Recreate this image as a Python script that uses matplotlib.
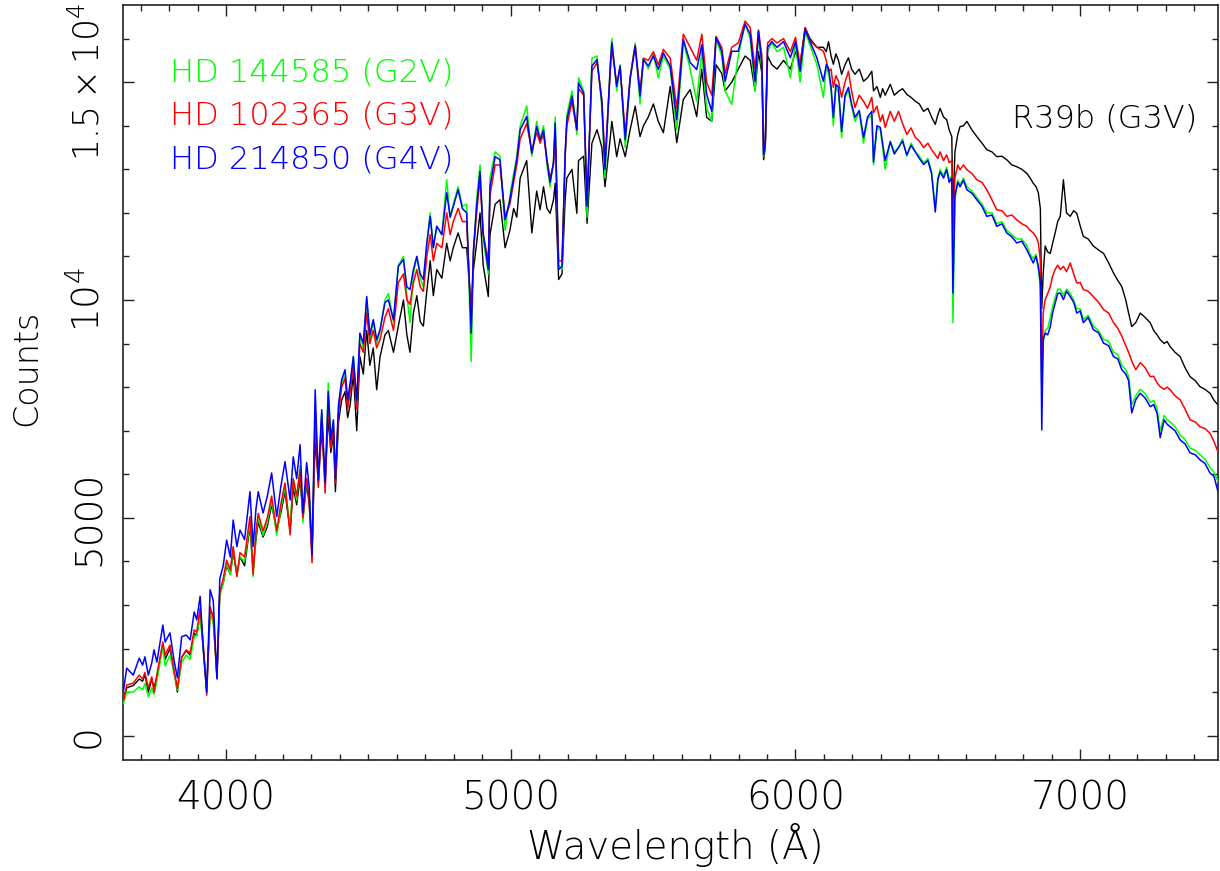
import matplotlib
matplotlib.use("Agg")
import matplotlib.pyplot as plt
from matplotlib.ticker import MultipleLocator, FixedLocator

plt.rcParams["mathtext.fontset"] = "custom"
plt.rcParams["mathtext.rm"] = "DejaVu Sans:extralight"
plt.rcParams["mathtext.it"] = "DejaVu Sans:extralight"
plt.rcParams["mathtext.bf"] = "DejaVu Sans:extralight"

# ---------------- data ----------------
wavelength = [
    3640, 3651, 3674, 3695, 3707, 3715, 3727, 3739, 3747, 3757, 3778, 3786, 3803, 3817, 3829, 3844,
    3860, 3874, 3888, 3897, 3909, 3920, 3932, 3944, 3955, 3968, 3978,
    3990, 4002, 4015, 4025, 4038, 4049, 4065, 4084, 4095, 4105, 4113, 4130, 4145, 4160, 4178, 4192,
    4207, 4225, 4236, 4248, 4260, 4270, 4283, 4292, 4302, 4313, 4324, 4336, 4348, 4359, 4368, 4377,
    4384, 4395, 4406, 4418, 4427, 4436, 4447, 4459, 4470, 4482, 4494, 4505, 4517, 4529, 4541, 4558,
    4570, 4588, 4605, 4623, 4635, 4646, 4658, 4670, 4682, 4693, 4705, 4717, 4728, 4740, 4758, 4775,
    4787, 4798, 4815, 4830,
    4845, 4861, 4869, 4880, 4892, 4903, 4921, 4927, 4945, 4962, 4980, 4997, 5010, 5021, 5033, 5056,
    5074, 5091, 5103, 5115, 5127, 5138, 5150, 5156, 5168, 5180, 5191, 5197, 5215, 5232, 5238, 5256,
    5268, 5285, 5303, 5320, 5331, 5349, 5355, 5372, 5384, 5402, 5419, 5437, 5454, 5466, 5483, 5501,
    5518, 5536, 5560, 5583, 5606, 5630, 5653,
    5671, 5688, 5706, 5721, 5741, 5753, 5776, 5799, 5823, 5841, 5858, 5870, 5882, 5888, 5894, 5902,
    5917, 5935, 5958, 5982, 6000, 6016, 6034, 6051, 6075,
    6098, 6108, 6116, 6125, 6133, 6142, 6151, 6162, 6174, 6186,
    6197, 6209, 6224, 6239, 6253, 6268, 6274, 6286, 6298, 6306,
    6315, 6333, 6347, 6362, 6376, 6391, 6406, 6421, 6435, 6450,
    6465, 6478, 6491, 6500, 6508, 6520, 6531, 6540, 6549, 6553,
    6560, 6570, 6578, 6590, 6602, 6620, 6637, 6655, 6672, 6690,
    6707, 6725, 6742, 6760, 6777, 6795, 6812, 6824, 6835, 6845,
    6853, 6860, 6865, 6870, 6877, 6886, 6895, 6903, 6912, 6921,
    6930, 6941, 6952, 6965, 6977, 6988, 7000, 7011, 7028, 7046,
    7064, 7082, 7100, 7117, 7132, 7146, 7160, 7170, 7181, 7195,
    7211, 7228, 7246, 7258, 7270, 7281, 7295, 7305, 7316, 7333,
    7351, 7368, 7386, 7404, 7421, 7438, 7456, 7470, 7484,
]

counts_hd144585 = [  # green, G2V
    750, 1000, 1000, 1120, 1050, 1200, 890, 1100, 950, 1250, 2040, 1600, 1850, 1450, 1050, 1670,
    1850, 1750, 2270, 2300, 2730, 2000, 1000, 2800, 2600, 1400, 3200,
    3500, 3950, 3700, 4300, 3700, 4100, 4000, 4900, 3650, 4600, 5000, 4600, 4900, 5400, 4600, 5200,
    5700, 4800, 5900, 5400, 6200, 4900, 5900, 5500, 4100, 7500, 5800, 7400, 5700, 8100, 6700, 7200,
    5900, 7500, 8100, 8300, 7600, 8000, 8700, 7500, 9200, 8900, 10000, 9100, 9500, 9000, 9300, 10000,
    10150, 9500, 10800, 11000, 10100, 9480, 10600, 11000, 10500, 10300, 11300, 12000, 11200, 11700, 11500, 12760,
    11900, 12200, 12600, 12150,
    12200, 8590, 11000, 12300, 13100, 11400, 10600, 12800, 13400, 13300, 11600, 12400, 12900, 13300, 14000, 14450,
    13300, 14100, 13700, 14000, 13100, 12600, 13200, 14200, 10800, 10700, 13300, 14250, 14800, 13800, 15100, 14800,
    11900, 15550, 15600, 14400, 12800, 15400, 16000, 14800, 15400, 13500, 15100, 15900, 14500, 15550, 15300, 15650,
    15100, 15600, 15300, 13900, 15950, 15300, 14560,
    15700, 14400, 14100, 16000, 15600, 14800, 14490, 15600, 16350, 16000, 14800, 16100, 15300, 13300, 13600, 15700,
    15900, 15700, 15800, 15100, 15900, 15000, 16150, 15850, 15400,
    14650, 15350, 15200, 14800, 14000, 14900, 14750, 13730, 14650, 14800,
    14450, 14100, 14300, 13600, 14150, 14250, 13100, 13950, 13900, 13500,
    13000, 13650, 13400, 13500, 13700, 13300, 13600, 13400, 13300, 13150,
    13250, 12950, 12100, 12800, 13000, 12850, 13050, 12750, 12850, 9480,
    12300, 12750, 12650, 12800, 12600, 12500, 12350, 12200, 12000, 12000,
    11750, 11800, 11600, 11500, 11400, 11400, 11250, 11050, 10950, 11050,
    10700, 10300, 8000, 9000, 9300, 9350, 9600, 9850, 10050, 10250,
    10250, 10100, 10250, 10150, 10000, 9800, 9800, 9550, 9650, 9400,
    9300, 9100, 9050, 8800, 8750, 8500, 8400, 8250, 7600, 7800,
    7950, 7850, 7650, 7700, 7500, 7000, 7350, 7250, 7200, 7100,
    6900, 6800, 6600, 6550, 6450, 6350, 6150, 6050, 5830,
]

counts_hd102365 = [  # red, G3V
    820, 1160, 1210, 1390, 1300, 1450, 1090, 1350, 1000, 1400, 2150, 1850, 2080, 1500, 1090, 1800,
    1970, 1900, 2430, 2380, 2930, 2100, 930, 2960, 2700, 1330, 3300,
    3600, 4030, 3800, 4340, 3650, 4200, 4100, 5030, 3700, 4700, 5100, 4700, 5000, 5500, 4700, 5300,
    5800, 4610, 5900, 5500, 6100, 5000, 5900, 5400, 3970, 7400, 5700, 7300, 5570, 7700, 6600, 7100,
    5800, 7400, 8000, 8200, 7500, 7900, 8500, 7500, 9000, 8800, 9700, 9000, 9300, 8900, 9100, 9600,
    9800, 9300, 10400, 10600, 10000, 9900, 10400, 10700, 10300, 10200, 11000, 11500, 10900, 11300, 11200, 12000,
    11500, 11800, 12100, 11800,
    11800, 9500, 11100, 12000, 12800, 11500, 10900, 12400, 13100, 13100, 11900, 12200, 12700, 13100, 13700, 14050,
    13400, 13850, 13600, 13800, 13200, 12800, 13100, 13900, 10900, 10900, 13300, 14000, 14550, 13900, 14850, 14700,
    12300, 15250, 15450, 14600, 13200, 15200, 15800, 14950, 15350, 13800, 15100, 15850, 14800, 15550, 15500, 15700,
    15400, 15750, 15550, 14400, 16100, 15800, 15500,
    16100, 15000, 14700, 16050, 15800, 15200, 15800, 15900, 16400, 16250, 15300, 16200, 15600, 13400, 13700, 15900,
    16000, 15900, 16000, 15700, 16030, 15400, 16250, 15950, 15800,
    15710, 15500, 15250, 15300, 14880, 15150, 15020, 14650, 15000, 15250,
    14800, 14420, 14700, 14560, 14400, 14650, 14300, 14450, 14100, 14250,
    13960, 14330, 14100, 14330, 14050, 13800, 13950, 13730, 13650, 13500,
    13600, 13450, 13330, 13250, 13400, 13200, 13330, 13150, 13200, 11610,
    12800, 13100, 12990, 13100, 12990, 12900, 12760, 12700, 12530, 12300,
    12070, 12050, 11920, 11950, 11840, 11750, 11690, 11600, 11540, 11450,
    11310, 10900, 8100, 9700, 10010, 10150, 10310, 10550, 10700, 10800,
    10700, 10770, 10650, 10850, 10600, 10390, 10400, 10240, 10200, 10080,
    9950, 9780, 9700, 9480, 9350, 9170, 8950, 8800, 8600, 8400,
    8560, 8450, 8240, 8250, 8100, 8010, 7950, 8000, 7940, 7800,
    7710, 7500, 7250, 7200, 7090, 7050, 6940, 6750, 6510,
]

counts_hd214850 = [  # blue, G4V
    1050, 1550, 1390, 1780, 1620, 1810, 1390, 1670, 1970, 1690, 2540, 2150, 2360, 1740, 1330, 2270,
    2310, 2200, 2840, 2660, 3200, 1970, 1000, 3350, 3100, 1300, 3600,
    3900, 4490, 4100, 4950, 4340, 4720, 4500, 5600, 4340, 5200, 5600, 5110, 5500, 6030, 5030, 5700,
    6290, 5410, 6400, 5900, 6680, 5110, 6270, 5700, 4150, 7940, 5870, 7480, 5800, 7900, 6800, 7250,
    5900, 7600, 8170, 8400, 7700, 8100, 8700, 7700, 9240, 9010, 10080, 9200, 9550, 9090, 9320, 9940,
    10000, 9550, 10770, 10930, 10300, 10240, 10700, 11000, 10600, 10470, 11300, 11920, 11200, 11690, 11500, 12460,
    11900, 12150, 12530, 12100,
    12000, 9240, 11160, 12150, 12950, 11540, 10700, 12600, 13290, 13220, 11840, 12300, 12800, 13220, 13910, 14210,
    13370, 13980, 13680, 13900, 13220, 12700, 13150, 14060, 10700, 10770, 13370, 14140, 14680, 13910, 14980, 14750,
    12150, 15370, 15520, 14530, 13000, 15290, 15910, 14900, 15370, 13680, 15060, 15820, 14680, 15520, 15370, 15600,
    15290, 15670, 15370, 14140, 15980, 15450, 15290,
    15860, 14720, 14330, 16030, 15710, 15020, 15710, 15710, 16330, 16100, 15020, 16170, 15410, 13330, 13630, 15800,
    15930, 15800, 15930, 15560, 15930, 15250, 16210, 15930, 15560,
    15020, 15400, 15330, 14900, 14190, 14950, 14880, 13870, 14700, 14880,
    14500, 14190, 14350, 13730, 14200, 14330, 13170, 14000, 13960, 13600,
    13200, 13630, 13350, 13500, 13650, 13330, 13550, 13400, 13250, 13110,
    13200, 12900, 12020, 12750, 12940, 12800, 12990, 12700, 12800, 10160,
    12400, 12700, 12600, 12750, 12530, 12450, 12300, 12150, 11920, 11950,
    11690, 11750, 11540, 11450, 11310, 11350, 11160, 11000, 10850, 11000,
    10770, 10400, 7020, 9100, 9240, 9200, 9390, 9700, 9930, 10150,
    10160, 10010, 10200, 10080, 9950, 9700, 9750, 9480, 9600, 9320,
    9250, 9010, 8950, 8700, 8650, 8400, 8300, 8150, 7410, 7710,
    7860, 7750, 7550, 7600, 7400, 6840, 7250, 7150, 7090, 7000,
    6790, 6700, 6490, 6450, 6330, 6250, 6030, 5950, 5600,
]

counts_r39b = [  # black, G3V
    800, 1100, 1150, 1300, 1250, 1400, 1000, 1300, 1100, 1350, 2100, 1750, 2000, 1500, 1000, 1800,
    1950, 1850, 2350, 2300, 2800, 2000, 1050, 2900, 2750, 1350, 3300,
    3500, 3900, 3700, 4200, 3700, 4100, 3900, 4800, 3800, 4500, 4900, 4560, 4800, 5300, 4700, 5100,
    5600, 4700, 5700, 5300, 5900, 5000, 5800, 5300, 4200, 6800, 5800, 7000, 5900, 7300, 6500, 6900,
    5600, 7200, 7700, 7900, 7300, 7600, 8300, 7000, 8700, 8300, 9300, 8500, 8900, 7940, 8700, 9200,
    9300, 8800, 9400, 10000, 9200, 8800, 9700, 10100, 9500, 9400, 10200, 10900, 10100, 10700, 10500, 11300,
    10900, 11200, 11540, 11200,
    11200, 9800, 10700, 11300, 12000, 10800, 10080, 11500, 12200, 12300, 11200, 11600, 12100, 11900, 12800, 13200,
    11540, 12500, 12070, 12600, 12100, 11990, 12300, 12680, 10470, 10600, 12300, 12800, 13000, 11990, 13200, 13300,
    11760, 13600, 13910, 13500, 12600, 13700, 14100, 13290, 13700, 13290, 13900, 14450, 13750, 14000, 14200, 14500,
    14100, 13840, 14900, 13610, 14600, 14830, 14210,
    15300, 14190, 14100, 15400, 15200, 14800, 15000, 15300, 15600, 15500, 14800, 15700, 15200, 13220, 13500, 15600,
    15400, 15300, 15500, 15300, 15700, 15400, 16250, 16000, 15800,
    15800, 15700, 15930, 15600, 15410, 15650, 15500, 15180, 15400, 15560,
    15300, 15180, 15300, 15020, 15100, 15250, 14800, 14900, 14650, 14850,
    14700, 14950, 14700, 14790, 14850, 14720, 14650, 14560, 14500, 14330,
    14400, 14200, 14030, 14250, 14400, 14200, 14140, 13900, 13750, 12000,
    13400, 13800, 13980, 14000, 14100, 13900, 13750, 13600, 13450, 13400,
    13290, 13300, 13220, 13100, 13060, 13000, 12910, 12800, 12680, 12600,
    12460, 12100, 9800, 10600, 11240, 11100, 11070, 11300, 11540, 11800,
    11920, 12760, 12000, 11920, 12050, 11990, 11700, 11460, 11400, 11240,
    11150, 11070, 10850, 10620, 10450, 10310, 10000, 9700, 9390, 9480,
    9700, 9600, 9480, 9300, 9200, 9090, 9000, 9050, 8930, 8800,
    8700, 8450, 8240, 8150, 8010, 7950, 7860, 7700, 7590,
]

labels = ["HD 144585 (G2V)", "HD 102365 (G3V)", "HD 214850 (G4V)"]
target_label = "R39b (G3V)"
y_major = [0, 5000, 10000, 15000]
y_major_labels = ["0", "5000", r"$10^4$", r"$1.5\times10^4$"]

for s in (counts_hd144585, counts_hd102365, counts_hd214850, counts_r39b):
    assert len(s) == len(wavelength), (len(s), len(wavelength))

# ---------------- figure ----------------
FONT = dict(family="DejaVu Sans", weight=200)
fig = plt.figure(figsize=(12.2, 8.71), dpi=100)
ax = fig.add_axes([123 / 1220, 111 / 871, 1095 / 1220, 755 / 871])

ax.plot(wavelength, counts_r39b, color="black", lw=1.0, zorder=2)
ax.plot(wavelength, counts_hd144585, color="#00ff00", lw=1.1, zorder=3)
ax.plot(wavelength, counts_hd102365, color="#ff0000", lw=1.1, zorder=4)
ax.plot(wavelength, counts_hd214850, color="#0000ff", lw=1.1, zorder=5)

ax.set_xlim(3638, 7484)
ax.set_ylim(-558, 16771)

ax.xaxis.set_major_locator(MultipleLocator(1000))
ax.xaxis.set_minor_locator(MultipleLocator(100))
ax.yaxis.set_major_locator(FixedLocator(y_major))
ax.yaxis.set_minor_locator(MultipleLocator(1000))
ax.set_yticklabels(y_major_labels)

ax.tick_params(which="both", direction="in", top=True, right=True, color="#222222", width=1.0)
ax.tick_params(which="major", length=8)
ax.tick_params(which="minor", length=4)
ax.tick_params(axis="x", which="major", pad=14, labelsize=28)
ax.tick_params(axis="y", which="major", pad=12, labelsize=27, labelrotation=90)
for lab in ax.get_xticklabels() + ax.get_yticklabels():
    lab.set_fontfamily(FONT["family"])
    lab.set_fontweight(FONT["weight"])
ylabels_text = ax.get_yticklabels()
for lab in ylabels_text:
    lab.set_va("center")
ylabels_text[-1].set_fontsize(25)

for sp in ax.spines.values():
    sp.set_color("#222222")
    sp.set_linewidth(1.2)

ax.set_xlabel("Wavelength (Å)", fontsize=27.8, **FONT)
ax.xaxis.label.set_va("center")
ax.xaxis.set_label_coords(0.5045, -0.1126)
ax.set_ylabel("Counts", fontsize=24, **FONT)
ax.yaxis.label.set_va("center")
ax.yaxis.set_label_coords(-0.0877, 0.519)

colors = ["#00ff00", "#ff0000", "#0000ff"]
ypos = [0.910, 0.853, 0.796]
for lab, c, yy in zip(labels, colors, ypos):
    ax.text(0.0429, yy, lab, color=c, fontsize=23, ha="left", va="center",
            transform=ax.transAxes, **FONT)
ax.text(0.981, 0.850, target_label, color="black", fontsize=23, ha="right", va="center",
        transform=ax.transAxes, **FONT)

fig.savefig("out.png", dpi=100)
